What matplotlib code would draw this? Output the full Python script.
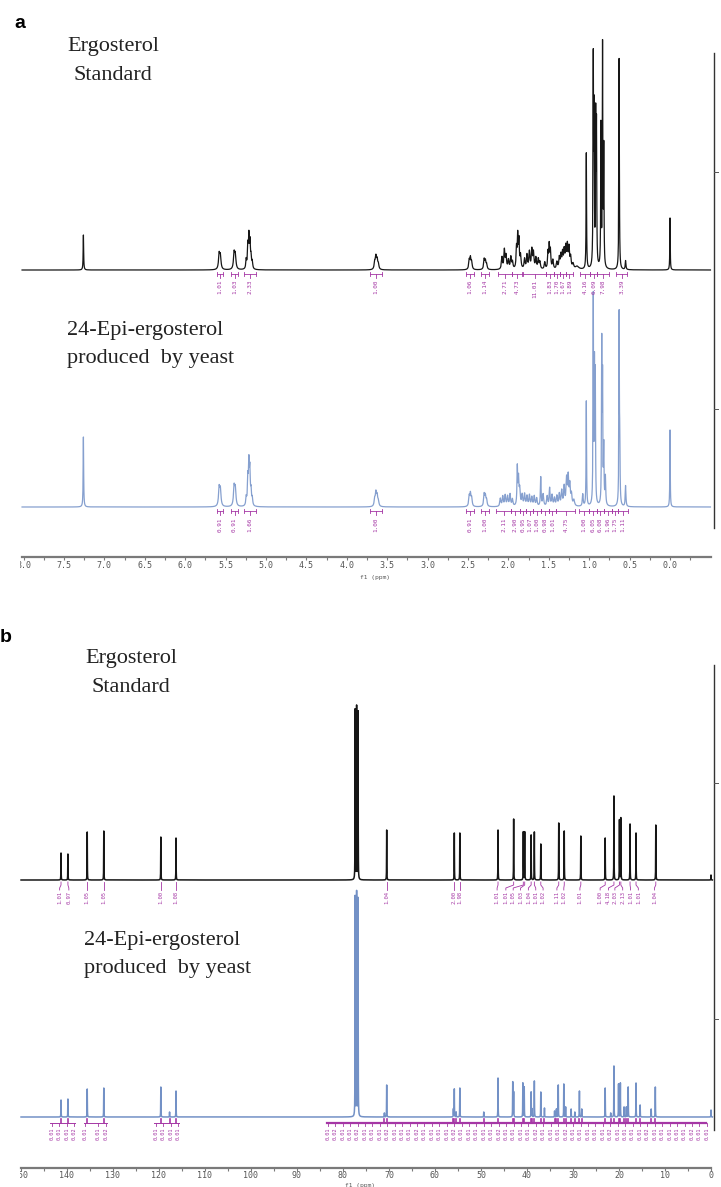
import numpy as np
import matplotlib
matplotlib.use("Agg")
import matplotlib.pyplot as plt
from matplotlib.lines import Line2D
from matplotlib.transforms import Bbox, TransformedBbox, blended_transform_factory

# ---------------- DATA ----------------
# 1H NMR, ergosterol standard (ppm, height)
h1_std_ppm = [7.26, 5.58, 5.565, 5.395, 5.38, 5.245, 5.225, 5.212, 5.198, 5.185, 5.17,
              3.655, 3.64, 3.625, 3.61, 2.485, 2.47, 2.455, 2.30, 2.285, 2.27,
              2.08, 2.05, 2.03, 2.00, 1.97, 1.95, 1.90, 1.885, 1.87, 1.85, 1.80, 1.77,
              1.74, 1.71, 1.69, 1.66, 1.63, 1.61, 1.55, 1.51, 1.495, 1.48, 1.45, 1.40,
              1.37, 1.35, 1.33, 1.31, 1.29, 1.27, 1.25, 1.23, 1.20, 1.15,
              1.036, 0.95, 0.94, 0.92, 0.91, 0.855, 0.835, 0.82, 0.63, 0.55, 0.0]
h1_std_int = [35, 15, 13, 16, 14, 9, 22, 31, 25, 11, 7,
              7, 12, 9, 5, 9, 11, 7, 10, 8, 5,
              12, 19, 13, 9, 12, 7, 20, 32, 27, 13, 10, 14,
              17, 19, 16, 11, 10, 7, 7, 16, 23, 18, 9, 7,
              11, 13, 15, 17, 20, 22, 20, 11, 5, 3,
              116, 203, 146, 144, 136, 141, 220, 116, 214, 9, 52]
h1_std_fwhm = [0.007, 0.018, 0.018, 0.018, 0.018, 0.012, 0.012, 0.012, 0.012, 0.012, 0.012,
               0.016, 0.016, 0.016, 0.016, 0.015, 0.015, 0.015, 0.015, 0.015, 0.015,
               0.015, 0.015, 0.015, 0.015, 0.015, 0.015, 0.012, 0.012, 0.012, 0.015, 0.015, 0.015,
               0.015, 0.015, 0.015, 0.015, 0.015, 0.015, 0.015, 0.012, 0.012, 0.012, 0.015, 0.015,
               0.015, 0.015, 0.015, 0.015, 0.015, 0.015, 0.015, 0.015, 0.02, 0.05,
               0.007, 0.007, 0.007, 0.007, 0.007, 0.007, 0.007, 0.007, 0.007, 0.010, 0.006]

# 1H NMR, 24-epi-ergosterol from yeast
h1_yst_ppm = [7.26, 5.58, 5.565, 5.395, 5.38, 5.245, 5.225, 5.212, 5.20, 5.185, 5.17,
              3.655, 3.64, 3.625, 3.61, 2.485, 2.47, 2.455, 2.30, 2.285, 2.27,
              2.10, 2.07, 2.04, 2.01, 1.98, 1.95, 1.89, 1.875, 1.86, 1.83, 1.80, 1.77,
              1.74, 1.71, 1.68, 1.65, 1.60, 1.57, 1.52, 1.49, 1.46, 1.43, 1.40, 1.37,
              1.34, 1.31, 1.28, 1.26, 1.24, 1.22, 1.19, 1.08,
              1.036, 0.95, 0.935, 0.925, 0.845, 0.835, 0.82, 0.80, 0.63, 0.622, 0.55, 0.0]
h1_yst_int = [70, 18, 16, 19, 17, 8, 26, 40, 33, 14, 7,
              7, 13, 10, 5, 10, 12, 8, 12, 10, 6,
              8, 10, 11, 10, 12, 7, 38, 26, 16, 11, 12, 10,
              11, 9, 10, 8, 29, 12, 10, 18, 11, 8, 10, 12,
              15, 19, 26, 28, 20, 11, 6, 12,
              105, 208, 131, 124, 158, 120, 56, 28, 188, 53, 21, 77]
h1_yst_fwhm = [0.007, 0.018, 0.018, 0.018, 0.018, 0.012, 0.012, 0.012, 0.012, 0.012, 0.012,
               0.016, 0.016, 0.016, 0.016, 0.015, 0.015, 0.015, 0.015, 0.015, 0.015,
               0.015, 0.015, 0.015, 0.015, 0.015, 0.015, 0.010, 0.012, 0.015, 0.015, 0.015, 0.015,
               0.015, 0.015, 0.015, 0.015, 0.010, 0.015, 0.015, 0.012, 0.015, 0.015, 0.015, 0.015,
               0.015, 0.015, 0.015, 0.015, 0.015, 0.015, 0.02, 0.012,
               0.007, 0.007, 0.007, 0.007, 0.007, 0.007, 0.008, 0.010, 0.007, 0.008, 0.010, 0.006]

# 1H integrals (start ppm, end ppm, value)
h1_std_int_start = [5.61, 5.43, 5.27, 3.71, 2.52, 2.34, 2.13, 1.95, 1.82, 1.53, 1.44, 1.36, 1.29, 1.11, 0.99, 0.90, 0.67]
h1_std_int_end = [5.53, 5.35, 5.13, 3.57, 2.43, 2.24, 1.96, 1.83, 1.53, 1.44, 1.36, 1.29, 1.20, 0.99, 0.90, 0.76, 0.53]
h1_std_int_label = ["1.01", "1.03", "2.33", "1.00", "1.06", "1.14", "2.71", "4.73", "11.01",
                    "1.83", "1.70", "1.67", "1.89", "4.16", "6.09", "7.98", "3.39"]

h1_yst_int_start = [5.61, 5.43, 5.27, 3.71, 2.52, 2.34, 2.15, 1.97, 1.86, 1.78, 1.69, 1.60, 1.50, 1.41,
                    1.13, 1.00, 0.91, 0.82, 0.72, 0.64]
h1_yst_int_end = [5.53, 5.35, 5.13, 3.57, 2.43, 2.24, 1.97, 1.86, 1.78, 1.69, 1.60, 1.50, 1.41, 1.17,
                  1.00, 0.91, 0.82, 0.72, 0.64, 0.52]
h1_yst_int_label = ["0.91", "0.91", "1.66", "1.00", "0.91", "1.00", "2.11", "2.90", "0.95", "1.07",
                    "1.00", "0.98", "1.01", "4.75", "1.00", "6.05", "6.08", "1.96", "1.75", "1.11"]

h1_ticks = [8.0, 7.5, 7.0, 6.5, 6.0, 5.5, 5.0, 4.5, 4.0, 3.5, 3.0, 2.5, 2.0, 1.5, 1.0, 0.5, 0.0]

# 13C NMR, ergosterol standard
c13_std_ppm = [141.3, 139.8, 135.6, 132.0, 119.6, 116.3, 77.36, 77.04, 76.72, 70.5, 55.8, 54.6,
               46.3, 42.9, 40.8, 40.5, 39.1, 38.4, 37.0, 33.1, 31.9, 28.3, 23.0, 21.1, 19.9, 19.6,
               17.6, 16.3, 12.0, 0.0]
c13_std_int = [27, 26, 48, 49, 43, 42, 170, 173, 168, 50, 47, 47,
               50, 61, 48, 48, 45, 48, 36, 57, 49, 44, 42, 84, 60, 62,
               56, 47, 55, 5]
c13_std_peak_idx = [0, 1, 2, 3, 4, 5, 9, 10, 11, 12, 13, 14, 15, 16, 17, 18, 19, 20, 21, 22, 23, 24, 25, 26, 27, 28]
c13_std_label_pos = [141.6, 139.6, 135.6, 132.0, 119.6, 116.3, 70.5, 55.8, 54.6, 46.5, 44.6, 43.0, 41.4,
                     39.7, 38.1, 36.5, 33.5, 32.0, 28.5, 24.1, 22.3, 20.9, 19.2, 17.5, 15.8, 12.3]
c13_std_label = ["1.01", "0.97", "1.05", "1.05", "1.00", "1.08", "1.04", "2.00", "1.98", "1.01",
                 "1.01", "1.05", "1.03", "1.04", "1.01", "1.02", "1.11", "1.02", "1.01", "1.00",
                 "4.18", "2.03", "2.13", "1.01", "1.01", "1.04"]

# 13C NMR, 24-epi-ergosterol from yeast
c13_yst_ppm = [141.3, 139.8, 135.6, 132.0, 119.6, 117.7, 116.3, 77.36, 77.04, 76.72, 71.0, 70.5,
               56.0, 55.8, 55.4, 54.6, 49.4, 46.3, 43.1, 42.9, 40.9, 40.6, 39.1, 38.9, 38.4, 37.0,
               36.2, 34.0, 33.6, 33.2, 32.0, 31.6, 30.4, 29.6, 28.6, 28.1, 23.0, 21.8, 21.1, 20.1,
               19.7, 18.9, 18.4, 18.0, 16.3, 15.4, 13.0, 12.1, 0.0]
c13_yst_int = [17, 18, 28, 29, 30, 5, 26, 220, 224, 218, 4, 32,
               8, 28, 5, 29, 5, 39, 35, 25, 34, 30, 25, 8, 36, 25,
               9, 6, 8, 32, 33, 10, 8, 5, 26, 8, 29, 4, 51, 33,
               34, 10, 10, 30, 34, 12, 8, 30, 7]
c13_yst_left_labels_pos = [143.3, 141.7, 140.0, 138.5, 136.1, 133.3, 131.5, 120.7, 119.1, 117.4, 115.9]
c13_yst_left_labels = ["0.01", "0.01", "0.01", "0.02", "0.01", "0.01", "0.02", "0.01", "0.01", "0.01", "0.01"]
c13_yst_right_labels = ["0.01", "0.02", "0.01", "0.01", "0.02", "0.01", "0.01", "0.01", "0.02", "0.01",
                        "0.01", "0.01", "0.02", "0.01", "0.01", "0.01", "0.01", "0.02", "0.01", "0.01",
                        "0.01", "0.01", "0.01", "0.02", "0.01", "0.01", "0.01", "0.01", "0.02", "0.01",
                        "0.01", "0.01", "0.02", "0.01", "0.01", "0.01", "0.01", "0.01", "0.02", "0.01",
                        "0.01", "0.01", "0.01", "0.02", "0.01", "0.01", "0.01", "0.01", "0.01", "0.02",
                        "0.01", "0.01"]
c13_ticks = [150, 140, 130, 120, 110, 100, 90, 80, 70, 60, 50, 40, 30, 20, 10, 0]

# ---------------- STYLE ----------------
W, H = 721, 1187
BLACK = "#161616"
BLUE = "#86a0cf"
BLUE13 = "#7391c6"
MAG = "#a537a5"
GRAY = "#7a7a7a"
SERIF = "Liberation Serif"
MONO = "DejaVu Sans Mono"

fig = plt.figure(figsize=(W / 100, H / 100), dpi=100)
fig.patch.set_facecolor("white")


def fx(p):
    return p / W


def fy(p):
    return 1 - p / H


def lorentz_sum(x, centers, heights, fwhm):
    y = np.zeros_like(x)
    for c, h, w in zip(centers, heights, fwhm):
        y += h / (1.0 + ((x - c) / (w / 2.0)) ** 2)
    return y


clipbox = TransformedBbox(Bbox([[20 / W, 0], [1, 1]]), fig.transFigure)


def style_axis(ax, major, minor):
    for s in ["top", "left", "right"]:
        ax.spines[s].set_visible(False)
    ax.spines["bottom"].set_color(GRAY)
    ax.spines["bottom"].set_linewidth(1.6)
    ax.set_yticks([])
    ax.set_xticks(major)
    ax.set_xticks(minor, minor=True)
    ax.tick_params(axis="x", which="both", direction="out", length=2.5, width=0.8,
                   color=GRAY, labelbottom=False)
    ax.set_facecolor("none")


def tick_labels(ax, vals, ypix, fmt):
    tr = blended_transform_factory(ax.transData, fig.transFigure)
    for v in vals:
        t = fig.text(v, fy(ypix), fmt.format(v), transform=tr, ha="center", va="center",
                     fontsize=6, family=MONO, color="#555555", clip_on=True)
        t.set_clip_box(clipbox)


# ---------------- PANEL A (1H) ----------------
axA = fig.add_axes([fx(22), fy(557), fx(711) - fx(22), fy(40) - fy(557)])
axA.set_xlim(8.02, -0.507)
axA.set_ylim(0, 517)
style_axis(axA, h1_ticks, [v + 0.25 for v in h1_ticks[1:]] + [-0.25])
tick_labels(axA, h1_ticks, 566, "{:.1f}")
fig.text(fx(375), fy(578), "f1 (ppm)", fontsize=4.5, family=MONO, color="#555555",
         ha="center", va="center")

xa = np.arange(-0.5, 8.02, 0.0008)
baseA_std, baseA_yst = 287, 50
axA.plot(xa, baseA_std + lorentz_sum(xa, h1_std_ppm, h1_std_int, h1_std_fwhm),
         color=BLACK, lw=0.9, clip_on=False)
axA.plot(xa, baseA_yst + lorentz_sum(xa, h1_yst_ppm, h1_yst_int, h1_yst_fwhm),
         color=BLUE, lw=0.9, clip_on=False)


def h1_integrals(ax, base, starts, ends, labels):
    yb = base - 4
    for s, e, lab in zip(starts, ends, labels):
        ax.plot([s, e], [yb, yb], color=MAG, lw=0.6)
        ax.plot([s, s], [yb - 2, yb + 2], color=MAG, lw=0.6)
        ax.plot([e, e], [yb - 2, yb + 2], color=MAG, lw=0.6)
        m = (s + e) / 2
        ax.plot([m, m], [yb, yb - 4], color=MAG, lw=0.6)
        ax.text(m, yb - 6, lab, rotation=90, ha="center", va="top", fontsize=4.3,
                family=MONO, color=MAG)


h1_integrals(axA, baseA_std, h1_std_int_start, h1_std_int_end, h1_std_int_label)
h1_integrals(axA, baseA_yst, h1_yst_int_start, h1_yst_int_end, h1_yst_int_label)

# ---------------- PANEL B (13C) ----------------
axB = fig.add_axes([fx(21), fy(1168), fx(711) - fx(21), fy(640) - fy(1168)])
axB.set_xlim(150, 0)
axB.set_ylim(0, 528)
style_axis(axB, c13_ticks, [v + 5 for v in c13_ticks[1:]])
tick_labels(axB, c13_ticks, 1176, "{:d}")
fig.text(fx(360), fy(1186), "f1 (ppm)", fontsize=4.5, family=MONO, color="#555555",
         ha="center", va="center")

xb = np.arange(-0.3, 150.0, 0.01)
baseB_std, baseB_yst = 288, 51
fw_std = [0.05] * len(c13_std_ppm)
fw_yst = [0.05] * len(c13_yst_ppm)
axB.plot(xb, baseB_std + lorentz_sum(xb, c13_std_ppm, c13_std_int, fw_std),
         color=BLACK, lw=1.1, clip_on=False)
axB.plot(xb, baseB_yst + lorentz_sum(xb, c13_yst_ppm, c13_yst_int, fw_yst),
         color=BLUE13, lw=1.1, clip_on=False)

# black 13C peak labels with leaders
for idx, lp, lab in zip(c13_std_peak_idx, c13_std_label_pos, c13_std_label):
    p = c13_std_ppm[idx]
    y0 = baseB_std - 2
    axB.plot([p, p, lp, lp], [y0, y0 - 3, y0 - 6, y0 - 8], color=MAG, lw=0.6)
    axB.text(lp, y0 - 9, lab, rotation=90, ha="center", va="top", fontsize=4.0,
             family=MONO, color=MAG)

# blue 13C: dense comb of labels
yb = baseB_yst - 6
for p in c13_yst_ppm:
    if p == 0.0 or 76 < p < 78:
        continue
    axB.plot([p, p], [baseB_yst - 2, yb], color=MAG, lw=1.2)
axB.plot([143.6, 138.2], [yb, yb], color=MAG, lw=0.7)
axB.plot([136.4, 131.2], [yb, yb], color=MAG, lw=0.7)
axB.plot([121.0, 115.6], [yb, yb], color=MAG, lw=0.7)
axB.plot([83.5, 1.0], [yb, yb], color=MAG, lw=1.6)
for lp, lab in zip(c13_yst_left_labels_pos, c13_yst_left_labels):
    axB.plot([lp, lp], [yb, yb - 3], color=MAG, lw=0.6)
    axB.text(lp, yb - 4, lab, rotation=90, ha="center", va="top", fontsize=3.8,
             family=MONO, color=MAG)
right_pos = np.linspace(83.3, 0.9, len(c13_yst_right_labels))
for lp, lab in zip(right_pos, c13_yst_right_labels):
    axB.plot([lp, lp], [yb, yb - 3], color=MAG, lw=0.6)
    axB.text(lp, yb - 4, lab, rotation=90, ha="center", va="top", fontsize=3.8,
             family=MONO, color=MAG)

# ---------------- right-hand intensity scales ----------------
for (y0, y1, ticks) in [(53, 528, [172, 409]), (665, 1130, [783, 1019])]:
    fig.add_artist(Line2D([fx(714), fx(714)], [fy(y0), fy(y1)], transform=fig.transFigure,
                          color="#333333", lw=1.0))
    for t in ticks:
        fig.add_artist(Line2D([fx(714), fx(718)], [fy(t), fy(t)], transform=fig.transFigure,
                              color="#555555", lw=0.7))

# ---------------- texts ----------------
fig.text(fx(14), fy(24), "a", fontsize=14, fontweight="bold", family="Liberation Sans",
         ha="left", va="center")
fig.text(fx(0), fy(638), "b", fontsize=14, fontweight="bold", family="Liberation Sans",
         ha="left", va="center")

TS = dict(fontsize=16, family=SERIF, color="#222222", va="center")
fig.text(fx(113), fy(47), "Ergosterol", ha="center", **TS)
fig.text(fx(113), fy(76), "Standard", ha="center", **TS)
fig.text(fx(67), fy(330), "24-Epi-ergosterol", ha="left", **TS)
fig.text(fx(67), fy(359), "produced  by yeast", ha="left", **TS)

fig.text(fx(131), fy(658), "Ergosterol", ha="center", **TS)
fig.text(fx(131), fy(687), "Standard", ha="center", **TS)
fig.text(fx(84), fy(941), "24-Epi-ergosterol", ha="left", **TS)
fig.text(fx(84), fy(969), "produced  by yeast", ha="left", **TS)

fig.savefig("out.png", dpi=100)
